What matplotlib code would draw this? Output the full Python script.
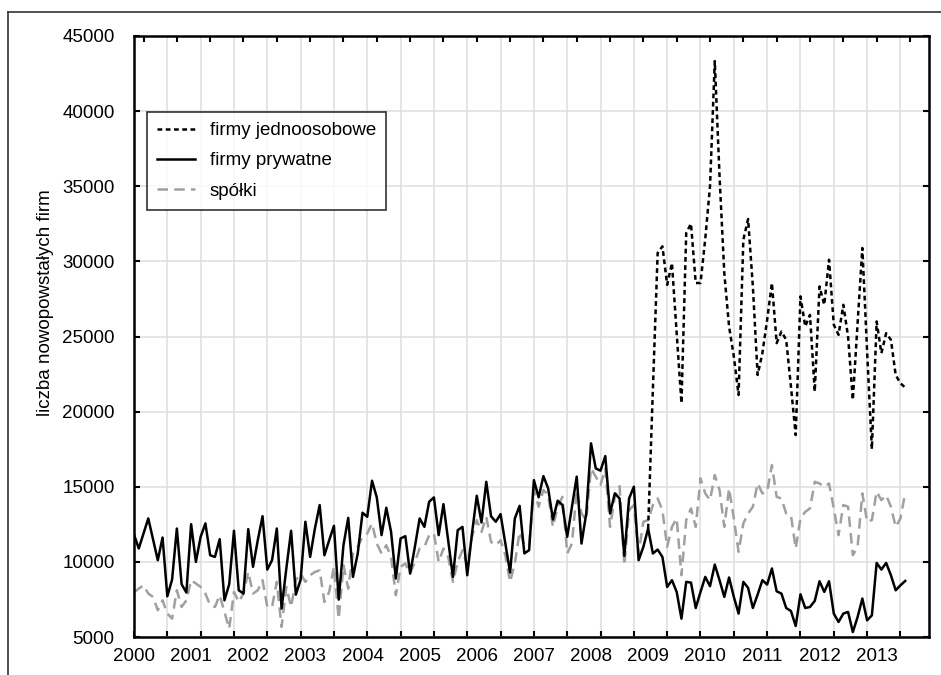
import numpy as np
import matplotlib
matplotlib.use("Agg")
import matplotlib.pyplot as plt
from matplotlib.lines import Line2D

plt.rcParams["font.family"] = ["Liberation Sans", "DejaVu Sans"]

# dane miesięczne od stycznia 2000 (indeks miesiąca = 0)
lata = list(range(2000, 2014))

firmy_prywatne = [
    11820, 10890, 11890, 12890, 11490, 10110, 11620, 7710, 8820, 12220, 8510, 7960,
    12510, 10000, 11670, 12560, 10440, 10330, 11510, 7440, 8510, 12070, 8110, 7890,
    12180, 9670, 11440, 13040, 9490, 10110, 12220, 6890, 9560, 12070, 7820, 8820,
    12670, 10330, 12220, 13780, 10440, 11440, 12400, 7490, 11110, 12930, 9000, 10560,
    13270, 13000, 15400, 14290, 11780, 13600, 12000, 8890, 11560, 11710, 9220, 11000,
    12890, 12330, 14000, 14290, 11780, 13840, 11440, 9000, 12110, 12330, 9110, 11890,
    14400, 12620, 15330, 13040, 12670, 13180, 11220, 9290, 12890, 13730, 10560, 10780,
    15440, 14300, 15710, 14890, 12820, 14070, 13780, 11670, 13670, 15670, 11220, 13220,
    17890, 16220, 16070, 17040, 13220, 14560, 14220, 10400, 14220, 15000, 10110, 11000,
    12220, 10560, 10820, 10330, 8330, 8780, 8000, 6220, 8670, 8620, 6930, 8000,
    9000, 8380, 9820, 8780, 7670, 8960, 7670, 6560, 8670, 8270, 6930, 7820,
    8780, 8490, 9560, 8040, 7890, 6930, 6730, 5730, 7840, 6930, 7000, 7400,
    8710, 8000, 8710, 6560, 6000, 6560, 6670, 5330, 6330, 7560, 6110, 6440,
    9930, 9490, 9930, 9110, 8110, 8440, 8730,
]

spolki = [
    7960, 8220, 8440, 7890, 7670, 6780, 7440, 6560, 6220, 8110, 7000, 7440,
    8780, 8560, 8330, 7890, 7110, 7000, 7780, 6670, 5560, 8000, 7330, 7890,
    9330, 7890, 8110, 8780, 7000, 7000, 8670, 5670, 8330, 7000, 8780, 9220,
    8670, 9110, 9330, 9440, 7330, 8000, 9670, 6220, 9780, 8220, 10560, 11000,
    11670, 11890, 12560, 11220, 10560, 11110, 10330, 7780, 9670, 9890, 9220, 10000,
    10890, 11000, 11780, 11890, 10000, 10890, 10330, 8670, 10000, 10780, 9780, 11670,
    12780, 12000, 13000, 11330, 11110, 11440, 10440, 8670, 9890, 12000, 11110, 11110,
    14780, 13670, 14780, 14440, 12330, 13670, 14330, 10560, 11220, 14780, 13220, 12780,
    16220, 15670, 15110, 16220, 12330, 14330, 15040, 9780, 13440, 13780, 10560, 12670,
    12780, 13780, 14220, 13440, 11000, 12330, 12890, 9110, 12780, 13560, 12330, 15560,
    14560, 14110, 15780, 14780, 12330, 14890, 12890, 10670, 12560, 13220, 13670, 15220,
    14560, 14670, 16440, 14330, 14220, 13220, 13110, 10890, 12890, 13330, 13560, 15330,
    15220, 15000, 15220, 13560, 11780, 13780, 13670, 10440, 11000, 14560, 12670, 12780,
    14670, 14110, 14440, 13670, 12330, 12890, 14600,
]

# firmy jednoosobowe - seria od stycznia 2009 (miesiąc 108)
jedn_start = 108
firmy_jednoosobowe = [
    12220, 21500, 30560, 31000, 28440, 29890, 25200, 20560, 31890, 32510, 28560, 28560,
    31500, 35000, 43330, 35670, 29220, 25670, 23670, 21110, 31440, 32820, 28330, 22440,
    23890, 26110, 28560, 24560, 25330, 24780, 21670, 18440, 27670, 25670, 26440, 21330,
    28330, 27110, 30110, 25780, 25110, 27110, 25000, 20780, 25890, 30890, 24000, 17500,
    26000, 23890, 25220, 24780, 22440, 21890, 21600,
]

m_all = np.arange(len(firmy_prywatne))
m_jedn = np.arange(jedn_start, jedn_start + len(firmy_jednoosobowe))

fig = plt.figure(figsize=(9.41, 6.75), dpi=100)
ax = fig.add_axes([134 / 941, 1 - 637 / 675, 795 / 941, 601 / 675])

ax.plot(m_jedn, firmy_jednoosobowe, color="black", lw=1.8,
        linestyle=(0, (1.9, 1.4)), label="firmy jednoosobowe", zorder=4)
ax.plot(m_all, firmy_prywatne, color="black", lw=1.8,
        label="firmy prywatne", zorder=3)
ax.plot(m_all, spolki, color="#a0a0a0", lw=1.8,
        linestyle=(0, (4.2, 2.5)), label="spółki", zorder=2)

ax.set_xlim(0, 167)
ax.set_ylim(5000, 45000)

# siatka i znaczniki co 7 miesięcy, podpisy co rok
ax.xaxis.remove_overlapping_locs = False
ax.set_xticks(np.arange(0, 167, 7))
ax.set_xticklabels([])
ax.set_xticks([12 * (r - 2000) for r in lata], minor=True)
ax.set_xticklabels([str(r) for r in lata], minor=True)
ax.set_yticks(np.arange(5000, 45001, 5000))

ax.tick_params(axis="both", which="major", direction="in", length=4, width=1.5,
               labelsize=13.5, colors="black")
ax.tick_params(axis="y", which="major", pad=14, right=True)
ax.tick_params(axis="x", which="minor", length=0, labelsize=13.5, pad=8)
ax.grid(True, which="major", color="#dedede", lw=1.1)
ax.set_axisbelow(True)
for s in ax.spines.values():
    s.set_linewidth(1.8)

# znaczniki na górnej osi przesunięte o 2 miesiące
ax2 = ax.twiny()
ax2.set_xlim(ax.get_xlim())
ax2.set_xticks(np.arange(2, 167, 7))
ax2.set_xticklabels([])
ax2.tick_params(axis="x", direction="in", length=4, width=1.5)
for s in ax2.spines.values():
    s.set_visible(False)

ax.set_ylabel("liczba nowopowstałych firm", fontsize=13.5)
ax.yaxis.set_label_coords(-0.101, 0.557)

leg = ax.legend(loc="upper left", bbox_to_anchor=(0.016, 0.874), borderaxespad=0,
                fontsize=13.5, frameon=True, fancybox=False, edgecolor="black",
                handlelength=2.0, handletextpad=0.8, labelspacing=0.7,
                borderpad=0.55)
leg.get_frame().set_linewidth(1.2)

# ramka zewnętrzna
fig.add_artist(Line2D([8 / 941, 1], [1 - 12 / 675, 1 - 12 / 675],
                      transform=fig.transFigure, color="#333333", lw=1.2))
fig.add_artist(Line2D([8 / 941, 8 / 941], [0, 1 - 12 / 675],
                      transform=fig.transFigure, color="#333333", lw=1.2))

plt.savefig("out.png", dpi=100)
